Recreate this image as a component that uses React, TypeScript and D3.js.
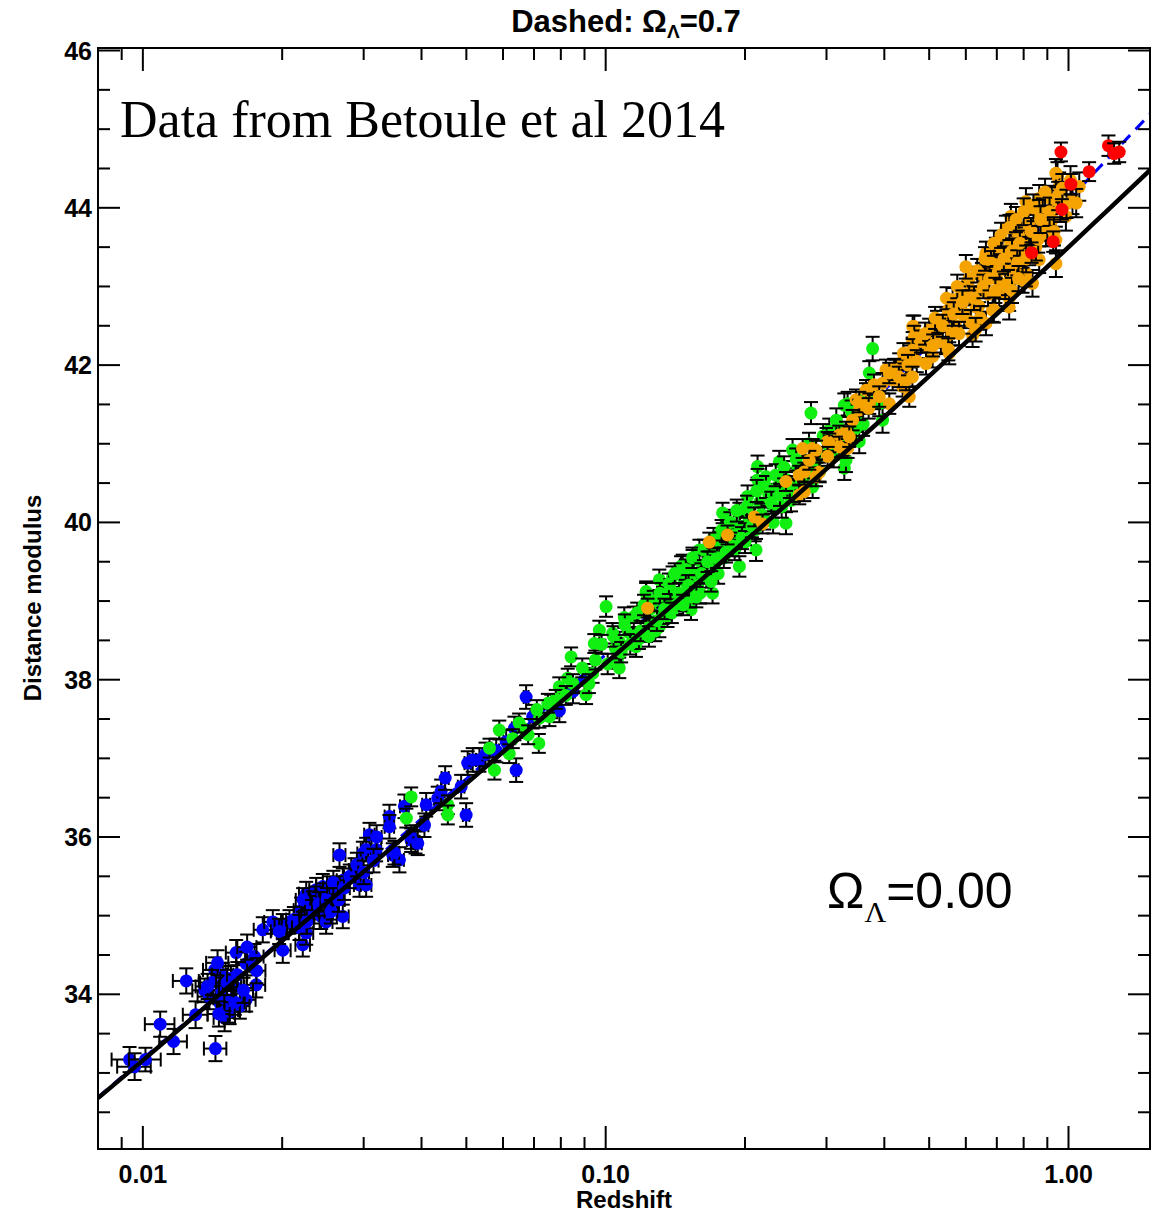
import React from "react";
import * as d3 from "d3";

// ---- Data (z, distance modulus, error) ----
const LOWZ: [number, number, number][] = [
  [0.00936, 33.17, 0.16], [0.0096, 33.08, 0.17], [0.01013, 33.17, 0.15], [0.0109, 33.62, 0.16],
  [0.01165, 33.4, 0.16], [0.01435, 33.31, 0.16], [0.013, 33.74, 0.17], [0.01241, 34.17, 0.16],
  [0.01359, 34.05, 0.15], [0.01429, 34.31, 0.16], [0.01489, 34.25, 0.15], [0.01465, 33.89, 0.16],
  [0.01502, 33.7, 0.17], [0.01552, 33.93, 0.15], [0.01578, 34.1, 0.16], [0.01591, 34.53, 0.16],
  [0.01672, 34.39, 0.15], [0.01743, 34.48, 0.16], [0.01758, 34.12, 0.16], [0.01672, 33.93, 0.15],
  [0.01393, 33.97, 0.16], [0.01526, 33.8, 0.16], [0.01816, 34.82, 0.16], [0.01909, 34.92, 0.15],
  [0.02006, 34.86, 0.16], [0.02074, 34.92, 0.15], [0.02006, 34.56, 0.16], [0.02216, 34.63, 0.15],
  [0.02254, 34.78, 0.15], [0.02198, 35.07, 0.16], [0.02254, 35.28, 0.15], [0.02369, 35.33, 0.15],
  [0.02448, 35.37, 0.16], [0.02531, 35.35, 0.15], [0.02428, 34.99, 0.16], [0.02489, 34.92, 0.15],
  [0.02329, 35.16, 0.15], [0.02573, 35.11, 0.16], [0.02704, 34.99, 0.15], [0.0266, 35.77, 0.15],
  [0.02866, 35.58, 0.15], [0.02987, 35.79, 0.15], [0.03088, 36.03, 0.15], [0.03037, 35.84, 0.15],
  [0.03192, 35.84, 0.15], [0.02938, 35.39, 0.15], [0.03037, 35.39, 0.15], [0.03467, 35.77, 0.15],
  [0.03584, 35.71, 0.16], [0.0341, 36.26, 0.15], [0.0341, 36.13, 0.15], [0.03674, 36.39, 0.15],
  [0.03799, 35.96, 0.15], [0.03882, 35.94, 0.15], [0.02254, 34.99, 0.15], [0.02704, 35.45, 0.15],
  [0.03496, 35.8, 0.15], [0.03799, 36.0, 0.15], [0.03926, 35.92, 0.15], [0.04059, 36.15, 0.15],
  [0.04094, 36.41, 0.15], [0.04336, 36.49, 0.15], [0.0441, 36.58, 0.15], [0.04872, 36.64, 0.15],
  [0.04995, 36.28, 0.15], [0.05034, 36.94, 0.15], [0.05161, 36.98, 0.15], [0.05336, 36.98, 0.15],
  [0.06406, 36.85, 0.15], [0.06351, 37.38, 0.15], [0.06731, 37.78, 0.15], [0.06955, 37.53, 0.15],
  [0.07622, 37.66, 0.15], [0.07943, 37.61, 0.15], [0.06095, 37.21, 0.15], [0.0236, 35.22, 0.15],
  [0.0245, 35.26, 0.15], [0.0262, 35.3, 0.15], [0.0258, 35.42, 0.15], [0.0228, 35.1, 0.15],
  [0.0212, 34.95, 0.16], [0.0197, 34.8, 0.16], [0.0168, 34.6, 0.16], [0.0155, 34.2, 0.16],
  [0.0148, 34.05, 0.16], [0.0162, 33.85, 0.16], [0.0145, 34.4, 0.16], [0.0176, 34.3, 0.16],
  [0.0154, 33.78, 0.16], [0.0141, 34.15, 0.16], [0.085, 37.85, 0.15], [0.09, 38.0, 0.15],
  [0.055, 37.05, 0.15], [0.058, 37.1, 0.15], [0.045, 36.75, 0.15],
  [0.0222, 35.2, 0.15], [0.0232, 35.05, 0.15], [0.024, 35.15, 0.15], [0.025, 35.2, 0.15],
  [0.0255, 35.05, 0.15], [0.0265, 35.2, 0.15], [0.0218, 34.85, 0.16], [0.0226, 34.92, 0.15],
  [0.0272, 35.35, 0.15], [0.028, 35.5, 0.15], [0.029, 35.65, 0.15], [0.03, 35.55, 0.15],
  [0.0315, 35.7, 0.15], [0.032, 36.0, 0.15], [0.015, 33.95, 0.16], [0.0152, 34.15, 0.16],
  [0.0158, 33.9, 0.16], [0.0146, 33.75, 0.16], [0.016, 34.25, 0.16], [0.0165, 34.05, 0.16],
  [0.0138, 34.1, 0.16],
];
const LOWZ_DZ = 0.0008;

const SDSS: [number, number, number][] = [
  [0.1529, 39.18, 0.13], [0.1529, 38.89, 0.13], [0.1223, 39.1, 0.13], [0.1097, 38.79, 0.13],
  [0.0969, 38.63, 0.12], [0.0945, 38.46, 0.12], [0.0842, 38.29, 0.12], [0.107, 38.48, 0.13],
  [0.1061, 38.27, 0.13], [0.107, 38.15, 0.13], [0.1163, 38.42, 0.13], [0.1306, 38.67, 0.13],
  [0.1223, 38.61, 0.13], [0.0828, 38.02, 0.12], [0.0794, 37.91, 0.12], [0.0907, 37.81, 0.12],
  [0.0937, 38.08, 0.12], [0.0756, 37.53, 0.12], [0.0719, 37.51, 0.12], [0.0717, 37.19, 0.12],
  [0.0589, 37.36, 0.12], [0.0561, 37.13, 0.12], [0.0575, 36.85, 0.12], [0.0619, 37.06, 0.12],
  [0.0662, 37.38, 0.12], [0.038, 36.51, 0.12], [0.0371, 36.24, 0.12], [0.0456, 36.41, 0.12],
  [0.0456, 36.28, 0.12], [0.1002, 38.93, 0.13], [0.1373, 39.01, 0.13], [0.1455, 39.44, 0.13],
  [0.1395, 39.31, 0.13], [0.3774, 42.21, 0.15], [0.3712, 41.9, 0.15], [0.2777, 41.39, 0.14],
  [0.3278, 41.49, 0.15], [0.2534, 40.92, 0.14], [0.2372, 40.77, 0.14], [0.2129, 40.71, 0.14],
  [0.2129, 40.54, 0.14], [0.2221, 40.58, 0.14], [0.2026, 40.33, 0.14], [0.1945, 40.12, 0.13],
  [0.182, 40.03, 0.13], [0.1789, 40.12, 0.13], [0.1594, 39.65, 0.13], [0.1541, 39.52, 0.13],
  [0.1467, 39.46, 0.13], [0.1306, 39.27, 0.13], [0.1223, 39.12, 0.13], [0.1035, 38.59, 0.13],
  [0.1702, 39.1, 0.13], [0.1945, 39.44, 0.13], [0.2113, 39.65, 0.14], [0.2452, 39.99, 0.14],
  [0.2514, 40.28, 0.14], [0.28, 40.45, 0.14], [0.3278, 40.69, 0.15], [0.3305, 40.79, 0.15],
  [0.3531, 41.03, 0.15], [0.3093, 40.96, 0.15], [0.3042, 41.17, 0.15], [0.3474, 41.3, 0.15],
  [0.3965, 41.3, 0.16], [0.3651, 41.62, 0.15], [0.1594, 39.1, 0.13], [0.1419, 38.97, 0.13],
  [0.1328, 38.84, 0.13], [0.1243, 38.67, 0.13], [0.1732, 39.69, 0.13], [0.1881, 39.86, 0.13],
  [0.2295, 40.2, 0.14], [0.2043, 40.03, 0.14], [0.262, 40.54, 0.14], [0.2848, 40.79, 0.14],
  [0.2412, 40.37, 0.14], [0.3332, 41.51, 0.15], [0.39, 41.51, 0.16], [0.3474, 41.2, 0.15],
  [0.112, 38.6, 0.13], [0.115, 38.8, 0.13], [0.118, 38.52, 0.13], [0.125, 38.9, 0.13],
  [0.128, 38.62, 0.13], [0.133, 39.05, 0.13], [0.136, 38.8, 0.13], [0.138, 39.15, 0.13],
  [0.142, 38.95, 0.13], [0.148, 39.25, 0.13], [0.152, 39.05, 0.13], [0.155, 39.35, 0.13],
  [0.158, 39.2, 0.13], [0.162, 39.45, 0.13], [0.165, 39.3, 0.13], [0.168, 39.6, 0.13],
  [0.172, 39.45, 0.13], [0.176, 39.75, 0.13], [0.18, 39.55, 0.13], [0.185, 39.8, 0.13],
  [0.19, 39.65, 0.13], [0.195, 39.95, 0.13], [0.2, 39.85, 0.14], [0.205, 40.1, 0.14],
  [0.21, 39.9, 0.14], [0.215, 40.25, 0.14], [0.22, 40.05, 0.14], [0.225, 40.35, 0.14],
  [0.23, 40.0, 0.14], [0.235, 40.45, 0.14], [0.24, 40.2, 0.14], [0.245, 40.55, 0.14],
  [0.255, 40.4, 0.14], [0.26, 40.7, 0.14], [0.27, 40.6, 0.14], [0.285, 40.9, 0.14],
  [0.29, 40.65, 0.14], [0.3, 41.05, 0.15], [0.31, 40.85, 0.15], [0.32, 41.2, 0.15],
  [0.095, 38.25, 0.12], [0.105, 38.4, 0.13], [0.085, 37.95, 0.12], [0.078, 37.75, 0.12],
  [0.065, 37.45, 0.12], [0.145, 39.0, 0.13], [0.16, 39.1, 0.13], [0.175, 39.35, 0.13],
  [0.2, 39.75, 0.14],
  [0.101, 38.2, 0.13], [0.104, 38.55, 0.13], [0.108, 38.35, 0.13], [0.11, 38.7, 0.13],
  [0.113, 38.45, 0.13], [0.117, 38.85, 0.13], [0.119, 38.62, 0.13], [0.121, 38.95, 0.13],
  [0.124, 38.55, 0.13], [0.127, 39.0, 0.13], [0.129, 38.75, 0.13], [0.131, 39.1, 0.13],
  [0.134, 38.9, 0.13], [0.137, 39.22, 0.13], [0.139, 38.85, 0.13], [0.141, 39.35, 0.13],
  [0.144, 39.1, 0.13], [0.147, 38.95, 0.13], [0.149, 39.4, 0.13], [0.151, 39.2, 0.13],
  [0.154, 39.55, 0.13], [0.157, 39.05, 0.13], [0.161, 39.35, 0.13], [0.163, 39.65, 0.13],
  [0.166, 39.5, 0.13], [0.169, 39.25, 0.13], [0.171, 39.8, 0.13], [0.174, 39.55, 0.13],
  [0.178, 39.9, 0.13], [0.182, 39.62, 0.13], [0.186, 40.0, 0.13], [0.188, 39.7, 0.13],
  [0.192, 40.15, 0.14], [0.197, 39.8, 0.14], [0.202, 40.2, 0.14], [0.207, 39.95, 0.14],
  [0.212, 40.4, 0.14], [0.217, 40.1, 0.14], [0.222, 40.45, 0.14], [0.228, 40.25, 0.14],
  [0.233, 40.6, 0.14], [0.238, 40.35, 0.14], [0.243, 40.7, 0.14], [0.25, 40.45, 0.14],
  [0.258, 40.8, 0.14], [0.265, 40.55, 0.14], [0.275, 41.0, 0.14], [0.282, 40.7, 0.14],
  [0.295, 41.1, 0.15], [0.305, 40.95, 0.15], [0.315, 41.3, 0.15], [0.325, 41.0, 0.15],
  [0.34, 41.4, 0.15], [0.36, 41.25, 0.15], [0.38, 41.6, 0.16], [0.089, 38.15, 0.12],
  [0.092, 37.95, 0.12], [0.098, 38.45, 0.12], [0.082, 37.8, 0.12], [0.075, 37.7, 0.12],
  [0.068, 37.3, 0.12], [0.063, 37.25, 0.12], [0.071, 37.62, 0.12],
];

const SNLS: [number, number, number][] = [
  [0.1232, 38.91, 0.12], [0.1675, 39.75, 0.12], [0.1834, 39.84, 0.12], [0.2095, 40.07, 0.12],
  [0.2183, 39.98, 0.12], [0.2452, 40.52, 0.12], [0.262, 40.6, 0.12], [0.2686, 40.64, 0.12],
  [0.2848, 40.58, 0.12], [0.2895, 40.64, 0.12], [0.262, 40.35, 0.12], [0.2686, 40.39, 0.12],
  [0.28, 40.94, 0.12], [0.3017, 41.03, 0.12], [0.3197, 41.11, 0.12], [0.3332, 40.94, 0.12],
  [0.3474, 41.56, 0.13], [0.3651, 41.68, 0.13], [0.4032, 41.94, 0.13], [0.4169, 41.81, 0.13],
  [0.4381, 41.73, 0.13], [0.4529, 41.6, 0.13], [0.4605, 42.49, 0.14], [0.4605, 42.28, 0.14],
  [0.4529, 42.11, 0.14], [0.41, 41.51, 0.13], [0.3531, 41.43, 0.13],
  [0.8091, 44.08, 0.17], [0.8644, 44.12, 0.17], [0.9467, 44.4, 0.18], [0.9548, 44.27, 0.18],
  [1.02, 44.1, 0.18], [1.055, 44.27, 0.18], [0.7507, 43.89, 0.16], [0.7323, 43.74, 0.16],
  [0.8091, 43.76, 0.17], [0.8644, 43.93, 0.17], [0.9235, 43.85, 0.17], [0.9872, 43.89, 0.18],
  [0.836, 43.63, 0.17], [0.8937, 43.68, 0.17], [0.7696, 43.59, 0.16], [0.6969, 43.46, 0.16],
  [0.7084, 43.34, 0.16], [0.7568, 43.38, 0.16], [0.8091, 43.51, 0.17], [0.9393, 43.29, 0.17],
  [0.9393, 43.59, 0.17], [0.7323, 43.21, 0.16], [0.6853, 43.21, 0.16], [0.7823, 43.27, 0.16],
  [0.836, 43.04, 0.17], [0.8091, 43.17, 0.17], [0.8644, 43.34, 0.17], [0.7445, 42.85, 0.16],
  [0.7445, 42.74, 0.16], [0.6631, 43.08, 0.15], [0.6414, 42.95, 0.15], [0.6052, 43.06, 0.15],
  [0.6052, 42.91, 0.15], [0.5618, 42.83, 0.15], [0.5714, 42.7, 0.15], [0.631, 42.74, 0.15],
  [0.6205, 42.38, 0.15], [0.5953, 42.62, 0.15], [0.5436, 42.6, 0.14], [0.5258, 42.45, 0.14],
  [0.5086, 42.36, 0.14], [0.5436, 42.28, 0.14], [0.4921, 42.23, 0.14], [0.4643, 42.49, 0.14],
  [0.4643, 42.36, 0.14], [0.4605, 42.19, 0.14], [0.4308, 42.02, 0.13], [0.4238, 41.94, 0.13],
  [0.4455, 41.81, 0.13], [0.3965, 41.77, 0.13], [0.3712, 41.68, 0.13], [0.3712, 41.51, 0.13],
  [0.3531, 41.53, 0.13], [0.3416, 41.3, 0.13], [0.3305, 41.15, 0.13], [0.3197, 40.96, 0.13],
  [0.336, 41.09, 0.13], [0.3042, 41.01, 0.12], [0.3017, 40.84, 0.12], [0.2848, 40.92, 0.12],
  [0.2754, 40.79, 0.12], [0.2664, 40.94, 0.12], [0.5086, 42.11, 0.14], [0.5525, 42.15, 0.14],
  [0.4921, 42.02, 0.14], [0.6631, 42.53, 0.15], [0.7084, 42.91, 0.16], [0.6853, 42.7, 0.15],
  [0.6631, 43.42, 0.15], [0.7955, 43.08, 0.16], [0.8225, 43.44, 0.17], [0.9393, 44.44, 0.18],
  [0.7568, 43.76, 0.16], [1.039, 44.06, 0.18],
  [0.48, 42.3, 0.14], [0.5, 42.45, 0.14], [0.52, 42.55, 0.14], [0.53, 42.3, 0.14],
  [0.55, 42.7, 0.14], [0.57, 42.5, 0.15], [0.58, 42.85, 0.15], [0.6, 42.65, 0.15],
  [0.62, 42.95, 0.15], [0.64, 42.75, 0.15], [0.65, 43.15, 0.15], [0.67, 42.9, 0.15],
  [0.68, 43.3, 0.15], [0.7, 43.1, 0.16], [0.72, 43.45, 0.16], [0.73, 43.0, 0.16],
  [0.75, 43.55, 0.16], [0.76, 43.2, 0.16], [0.78, 43.65, 0.16], [0.79, 43.4, 0.16],
  [0.82, 43.8, 0.17], [0.85, 43.5, 0.17], [0.88, 43.95, 0.17], [0.9, 43.75, 0.17],
  [0.92, 44.1, 0.18], [0.96, 44.0, 0.18], [0.44, 42.15, 0.13], [0.42, 41.95, 0.13],
  [0.47, 42.05, 0.14], [0.56, 42.4, 0.15],
  [0.37, 41.45, 0.13], [0.38, 41.75, 0.13], [0.39, 41.6, 0.13], [0.41, 41.9, 0.13],
  [0.43, 41.85, 0.13], [0.45, 42.0, 0.13], [0.46, 41.85, 0.13], [0.49, 42.4, 0.14],
  [0.51, 42.25, 0.14], [0.515, 42.6, 0.14], [0.535, 42.5, 0.14], [0.545, 42.85, 0.14],
  [0.565, 42.65, 0.15], [0.575, 43.0, 0.15], [0.59, 42.8, 0.15], [0.61, 43.1, 0.15],
  [0.615, 42.55, 0.15], [0.625, 42.85, 0.15], [0.635, 43.2, 0.15], [0.645, 42.6, 0.15],
  [0.655, 43.0, 0.15], [0.66, 43.35, 0.15], [0.675, 43.1, 0.15], [0.69, 43.55, 0.16],
  [0.695, 42.95, 0.16], [0.71, 43.25, 0.16], [0.715, 43.65, 0.16], [0.725, 43.35, 0.16],
  [0.74, 43.05, 0.16], [0.745, 43.75, 0.16], [0.755, 43.45, 0.16], [0.77, 43.85, 0.16],
  [0.775, 43.3, 0.16], [0.785, 43.55, 0.16], [0.8, 43.95, 0.17], [0.81, 43.35, 0.17],
  [0.83, 43.7, 0.17], [0.84, 44.0, 0.17], [0.86, 43.6, 0.17], [0.87, 43.85, 0.17],
  [0.89, 44.2, 0.17], [0.91, 43.95, 0.18], [0.93, 43.7, 0.18], [0.95, 44.15, 0.18],
  [0.97, 44.25, 0.18], [0.99, 44.05, 0.18], [1.01, 44.35, 0.18], [0.755, 42.95, 0.16],
  [0.78, 43.1, 0.16], [0.63, 42.45, 0.15], [0.58, 42.4, 0.15], [0.55, 42.2, 0.14],
  [0.6, 43.25, 0.15], [0.69, 42.7, 0.16],
];

const HST: [number, number, number][] = [
  [0.963, 44.71, 0.12], [1.22, 44.79, 0.13], [1.255, 44.69, 0.13], [1.287, 44.71, 0.13],
  [1.108, 44.46, 0.12], [1.012, 44.3, 0.13], [0.9676, 43.98, 0.13], [0.9268, 43.57, 0.13],
  [0.832, 43.43, 0.13],
];

// model curves
const CURVE_Z = [0.008, 0.01, 0.015, 0.02, 0.03, 0.05, 0.07, 0.1, 0.15, 0.2, 0.3, 0.4, 0.5, 0.6, 0.7, 0.8, 1.0, 1.2, 1.5];
const CURVE_OL0 = [32.68, 33.16, 34.05, 34.68, 35.56, 36.68, 37.42, 38.21, 39.11, 39.76, 40.68, 41.34, 41.86, 42.29, 42.65, 42.97, 43.5, 43.94, 44.48];
const CURVE_OL07 = [32.69, 33.18, 34.06, 34.7, 35.59, 36.74, 37.5, 38.32, 39.27, 39.96, 40.96, 41.68, 42.26, 42.74, 43.15, 43.5, 44.1, 44.59, 45.19];

const X_MAJOR = [0.01, 0.1, 1];
const X_MAJOR_LABELS = ["0.01", "0.10", "1.00"];
const X_MINOR = [0.009, 0.02, 0.03, 0.04, 0.05, 0.06, 0.07, 0.08, 0.09, 0.2, 0.3, 0.4, 0.5, 0.6, 0.7, 0.8, 0.9];
const Y_MAJOR = [34, 36, 38, 40, 42, 44, 46];
const Y_MINOR = [32.5, 33, 33.5, 34.5, 35, 35.5, 36.5, 37, 37.5, 38.5, 39, 39.5, 40.5, 41, 41.5, 42.5, 43, 43.5, 44.5, 45, 45.5];

const SERIES = [
  { name: "lowz", data: LOWZ, color: "#0000ff", hz: LOWZ_DZ },
  { name: "sdss", data: SDSS, color: "#11ee11", hz: 0 },
  { name: "snls", data: SNLS, color: "#f5a300", hz: 0 },
  { name: "hst", data: HST, color: "#ff0000", hz: 0 },
];

const W = 1153;
const H = 1215;
const L = 98, R = 1150, T = 48, B = 1149;

export default function App() {
  const x = d3.scaleLog().domain([0.008, 1.5]).range([L, R]);
  const y = d3.scaleLinear().domain([32.033, 46.032]).range([B, T]);
  const line = d3
    .line<number>()
    .x((_, i) => x(CURVE_Z[i]))
    .y((d) => y(d))
    .curve(d3.curveMonotoneX);
  const font = "'Liberation Sans', Arial, Helvetica, sans-serif";
  const cap = 7;

  return (
    <svg
      width={W}
      height={H}
      style={{ position: "absolute", left: 0, top: 0, background: "#fff" }}
      fontFamily={font}
    >
      <rect x={0} y={0} width={W} height={H} fill="#fff" />
      <defs>
        <clipPath id="plotclip">
          <rect x={L} y={T} width={R - L} height={B - T} />
        </clipPath>
      </defs>

      <g clipPath="url(#plotclip)">
        <path d={line(CURVE_OL07) || ""} fill="none" stroke="#0000ff" strokeWidth={3} strokeDasharray="12 8" />
        {SERIES.map((s) => (
          <g key={s.name}>
            {s.data.map((d, i) => {
              const cx = x(d[0]);
              const cy = y(d[1]);
              const y0 = y(d[1] - d[2]);
              const y1 = y(d[1] + d[2]);
              return (
                <g key={i}>
                  <g stroke="#000" strokeWidth={2} fill="none">
                    <line x1={cx} x2={cx} y1={y0} y2={y1} />
                    <line x1={cx - cap} x2={cx + cap} y1={y0} y2={y0} />
                    <line x1={cx - cap} x2={cx + cap} y1={y1} y2={y1} />
                    {s.hz > 0 && (
                      <>
                        <line x1={x(d[0] - s.hz)} x2={x(d[0] + s.hz)} y1={cy} y2={cy} />
                        <line x1={x(d[0] - s.hz)} x2={x(d[0] - s.hz)} y1={cy - cap} y2={cy + cap} />
                        <line x1={x(d[0] + s.hz)} x2={x(d[0] + s.hz)} y1={cy - cap} y2={cy + cap} />
                      </>
                    )}
                  </g>
                  <circle cx={cx} cy={cy} r={6.5} fill={s.color} />
                </g>
              );
            })}
          </g>
        ))}
        <path d={line(CURVE_OL0) || ""} fill="none" stroke="#000" strokeWidth={4.5} />
      </g>

      {/* axes box */}
      <rect x={L} y={T} width={R - L} height={B - T} fill="none" stroke="#000" strokeWidth={2} />
      <g stroke="#000" strokeWidth={2}>
        {X_MAJOR.map((v) => (
          <g key={"xM" + v}>
            <line x1={x(v)} x2={x(v)} y1={B} y2={B - 23} />
            <line x1={x(v)} x2={x(v)} y1={T} y2={T + 23} />
          </g>
        ))}
        {X_MINOR.map((v) => (
          <g key={"xm" + v}>
            <line x1={x(v)} x2={x(v)} y1={B} y2={B - 12} />
            <line x1={x(v)} x2={x(v)} y1={T} y2={T + 12} />
          </g>
        ))}
        {Y_MAJOR.map((v) => (
          <g key={"yM" + v}>
            <line x1={L} x2={L + 22} y1={y(v)} y2={y(v)} />
            <line x1={R} x2={R - 22} y1={y(v)} y2={y(v)} />
          </g>
        ))}
        {Y_MINOR.map((v) => (
          <g key={"ym" + v}>
            <line x1={L} x2={L + 12} y1={y(v)} y2={y(v)} />
            <line x1={R} x2={R - 12} y1={y(v)} y2={y(v)} />
          </g>
        ))}
      </g>

      {/* tick labels */}
      <g fontSize={25} fontWeight="bold" fill="#000">
        {X_MAJOR.map((v, i) => (
          <text key={"xl" + v} x={x(v)} y={1183} textAnchor="middle">
            {X_MAJOR_LABELS[i]}
          </text>
        ))}
        {Y_MAJOR.map((v) => (
          <text key={"yl" + v} x={92} y={y(v) + 9} textAnchor="end">
            {v}
          </text>
        ))}
      </g>

      {/* axis titles */}
      <text x={624} y={1208} textAnchor="middle" fontSize={24} fontWeight="bold">
        Redshift
      </text>
      <text transform="translate(41,598) rotate(-90)" textAnchor="middle" fontSize={24} fontWeight="bold">
        Distance modulus
      </text>
      <text x={626} y={32} textAnchor="middle" fontSize={31} fontWeight="bold">
        Dashed: Ω<tspan fontSize={19} dy={6}>Λ</tspan>
        <tspan dy={-6}>=0.7</tspan>
      </text>

      {/* annotations */}
      <text x={120} y={137} fontSize={52} fontFamily="'Liberation Serif', 'Times New Roman', serif">
        Data from Betoule et al 2014
      </text>
      <text x={827} y={908} fontSize={50}>
        Ω<tspan fontSize={30} dy={14} fontFamily="'Liberation Serif', serif">Λ</tspan>
        <tspan dy={-14}>=0.00</tspan>
      </text>
    </svg>
  );
}
